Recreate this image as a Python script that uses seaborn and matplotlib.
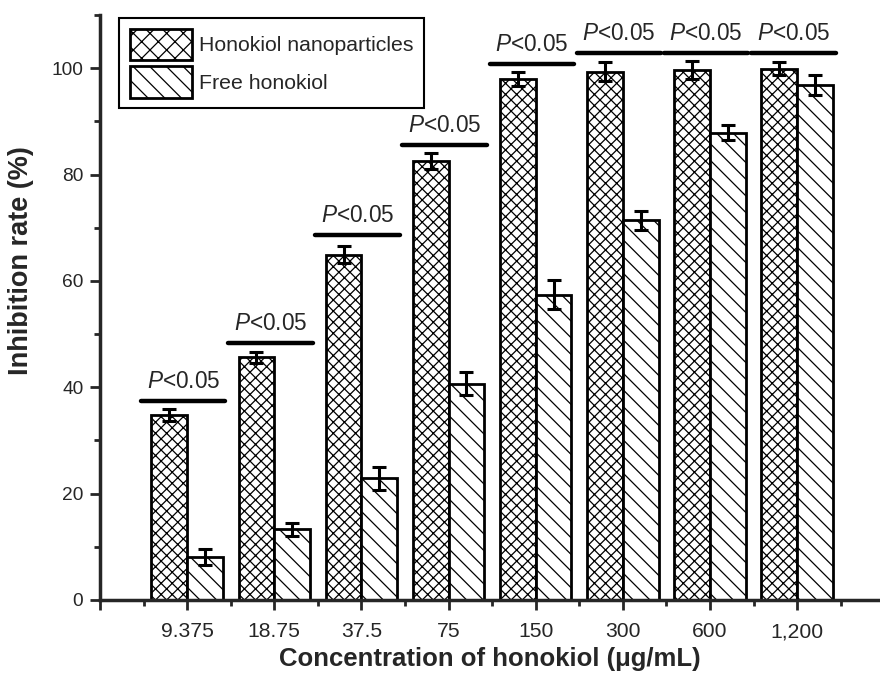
import numpy as np
import pandas as pd
import matplotlib
matplotlib.use("Agg")
import matplotlib.pyplot as plt
from matplotlib.ticker import MultipleLocator, FixedLocator
from matplotlib.patches import Patch
import seaborn as sns

# Data
concentrations = ["9.375", "18.75", "37.5", "75", "150", "300", "600", "1,200"]
nano_mean = [34.8, 45.6, 64.9, 82.6, 97.9, 99.3, 99.6, 99.9]
nano_err = [1.2, 1.0, 1.6, 1.5, 1.3, 1.8, 1.7, 1.2]
free_mean = [8.1, 13.3, 22.9, 40.7, 57.4, 71.4, 87.9, 96.8]
free_err = [1.5, 1.2, 2.2, 2.2, 2.7, 1.8, 1.4, 1.9]
sig_height = [37.4, 48.3, 68.6, 85.6, 100.7, 102.8, 102.8, 102.8]
sig_text = r"$\mathit{P}$<0.05"
series_names = ["Honokiol nanoparticles", "Free honokiol"]

sns.set_theme(style="ticks")
plt.rcParams["font.family"] = ["Liberation Sans", "DejaVu Sans"]
plt.rcParams["mathtext.fontset"] = "custom"
plt.rcParams["mathtext.it"] = "Liberation Sans:italic"
plt.rcParams["mathtext.rm"] = "Liberation Sans"
plt.rcParams["hatch.linewidth"] = 0.9

df = pd.DataFrame({
    "conc": concentrations * 2,
    "rate": nano_mean + free_mean,
    "group": [series_names[0]] * len(concentrations) + [series_names[1]] * len(concentrations),
})

fig = plt.figure(figsize=(8.8, 6.75), dpi=100)
ax = fig.add_axes([100 / 880, 1 - 600 / 675, 1 - 100 / 880, (600 - 15) / 675])

sns.barplot(data=df, x="conc", y="rate", hue="group", order=concentrations,
            hue_order=series_names, palette=["white", "white"], width=0.82,
            edgecolor="black", linewidth=2, errorbar=None, ax=ax, legend=False)

hatches = ["xxx", "\\\\"]
errs = [nano_err, free_err]
for cont, h, err in zip(ax.containers, hatches, errs):
    xs = []
    for p in cont.patches:
        p.set_hatch(h)
        p.set_edgecolor("black")
        xs.append(p.get_x() + p.get_width() / 2)
    ys = [p.get_height() for p in cont.patches]
    ax.errorbar(xs, ys, yerr=err, fmt="none", ecolor="black",
                elinewidth=2.2, capsize=5, capthick=2.2, zorder=5)

# significance lines
for i, hgt in enumerate(sig_height):
    ax.plot([i - 0.53, i + 0.44], [hgt, hgt], color="black", lw=3.2,
            solid_capstyle="round", zorder=6)
    ax.text(i - 0.045, hgt + 1.5, sig_text, ha="center", va="bottom", fontsize=16.3)

# legend
handles = [Patch(facecolor="white", edgecolor="black", hatch="xx", lw=2),
           Patch(facecolor="white", edgecolor="black", hatch="\\\\", lw=2)]
leg = ax.legend(handles, series_names, loc="upper left",
                bbox_to_anchor=(119 / 880, 1 - 18 / 675), bbox_transform=fig.transFigure,
                borderaxespad=0, fancybox=False, framealpha=1, edgecolor="black",
                fontsize=15.3, handlelength=2.95, handleheight=1.93, labelspacing=0.25,
                handletextpad=0.33, borderpad=0.5)
leg.get_frame().set_linewidth(1.5)

ax.set_ylim(0, 110)
ax.set_xlim(-1, 7.95)
ax.xaxis.set_major_locator(FixedLocator(list(range(-1, 9))))
ax.set_xticklabels([""] + concentrations + [""])
ax.xaxis.set_minor_locator(FixedLocator([i + 0.5 for i in range(-1, 8)]))
ax.yaxis.set_major_locator(FixedLocator([0, 20, 40, 60, 80, 100]))
ax.yaxis.set_minor_locator(MultipleLocator(10))
ax.tick_params(axis="both", which="major", length=7, width=2, direction="out")
ax.tick_params(axis="both", which="minor", length=4, width=2, direction="out")
ax.tick_params(axis="x", pad=9, labelsize=15.2)
ax.tick_params(axis="y", pad=5, labelsize=13.8)

sns.despine(ax=ax)
for s in ["left", "bottom"]:
    ax.spines[s].set_linewidth(2.5)

ax.set_xlabel("Concentration of honokiol (\u03bcg/mL)", fontsize=18.5, fontweight="bold")
ax.set_ylabel("Inhibition rate (%)", fontsize=19.5, fontweight="bold")
ax.xaxis.set_label_coords(0.5, -0.08)
ax.yaxis.set_label_coords(-0.085, 0.58)

fig.savefig("out.png", dpi=100)
